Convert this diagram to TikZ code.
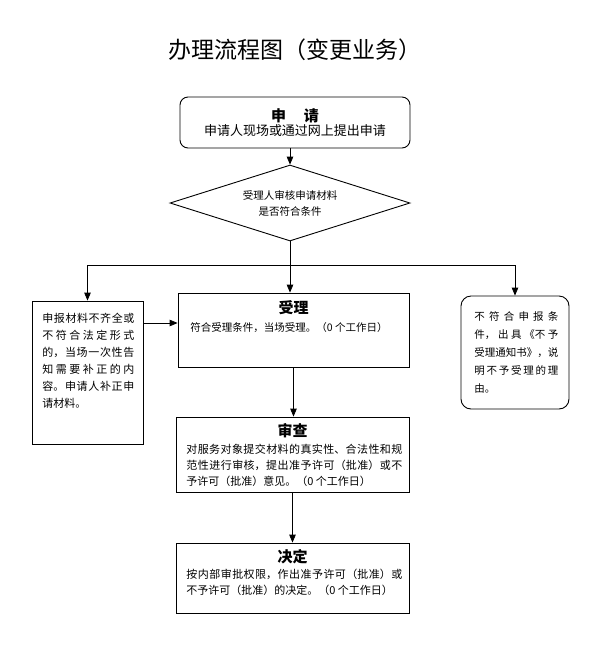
\documentclass[tikz,border=0pt]{standalone}
\usepackage{fontspec}
\setmainfont{Noto Sans CJK SC}
\XeTeXlinebreaklocale "zh"
\XeTeXlinebreakskip=0pt plus 1pt
\usetikzlibrary{arrows,shapes.geometric,positioning}
\begin{document}
\begin{tikzpicture}[>=triangle 45, x=1pt, y=-1pt, line width=0.8pt,
	stepbox/.style={draw, line width=0.9pt, inner sep=0pt},
	head/.style={font=\fontsize{15}{17}\selectfont\bfseries, inner sep=0pt},
	body/.style={font=\fontsize{11}{16}\selectfont, inner sep=0pt, anchor=base west}]
		\useasboundingbox (0,0) rectangle (597,649);
		\node[font=\fontsize{23}{28}\selectfont] (title) at (295,50) {办理流程图（变更业务）};

		\node[stepbox, rounded corners=8pt, minimum width=230pt, minimum height=51pt, align=center] (apply) at (295,122.5) {{\fontsize{15}{17}\selectfont\bfseries 申\hspace{1.2em}请}\\{\fontsize{13}{17}\selectfont 申请人现场或通过网上提出申请}};
		\node[stepbox, diamond, aspect=3.2, minimum width=240pt, minimum height=76pt, align=center, font=\fontsize{10.5}{16}\selectfont] (check) at (290,203) {受理人审核申请材料\\是否符合条件};
		\coordinate (split) at (290,265);

		\node[stepbox, minimum width=111pt, minimum height=143pt] (supp) at (87.5,372.5) {}; \node[body, text width=92pt, align=justify, font=\fontsize{11}{17}\selectfont] at (42,322) {申报材料不齐全或\linebreak 不符合法定形式\linebreak 的，当场一次性告\linebreak 知需要补正的内\linebreak 容。申请人补正申\linebreak 请材料。};
		\node[stepbox, rounded corners=10pt, minimum width=108pt, minimum height=113pt] (refuse) at (515,352.5) {}; \node[body, text width=84pt, align=justify, font=\fontsize{10.5}{18}\selectfont] at (474,320) {不符合申报条\linebreak 件，出具《不予\linebreak 受理通知书》，说\linebreak 明不予受理的理\linebreak 由。};

		\node[stepbox, minimum width=231pt, minimum height=74pt] (accept) at (293.5,330) {}; \node[head] at (293.5,308) {受理}; \node[body, font=\fontsize{10.5}{16}\selectfont] at (190,331) {符合受理条件，当场受理。（0 个工作日）};
		\node[stepbox, minimum width=233pt, minimum height=75pt] (review) at (292.5,454.5) {}; \node[head] at (292.5,431) {审查}; \node[body, text width=216pt, align=justify] at (186,453) {对服务对象提交材料的真实性、合法性和规\linebreak 范性进行审核，提出准予许可（批准）或不\linebreak 予许可（批准）意见。（0 个工作日）};
		\node[stepbox, minimum width=233pt, minimum height=70pt] (decision) at (292.5,578) {}; \node[head] at (292.5,557) {决定}; \node[body, text width=216pt, align=justify] at (186,578) {按内部审批权限，作出准予许可（批准）或\linebreak 不予许可（批准）的决定。（0 个工作日）};

		\draw[->] (apply.south -| check) -- (check.north); \draw (check.south) -- (split);
		\draw[->] (split) -| (supp.north); \draw[->] (split) -| (refuse.north); \draw[->] (split) -- (split |- accept.north);
		\path ([yshift=7pt]accept.west) coordinate (accin); \draw[->] (accin -| supp.east) -- (accin);
		\draw[->] (accept.south) -- (accept.south |- review.north); \draw[->] (review.south) -- (review.south |- decision.north);
	\end{tikzpicture}
\end{document}
